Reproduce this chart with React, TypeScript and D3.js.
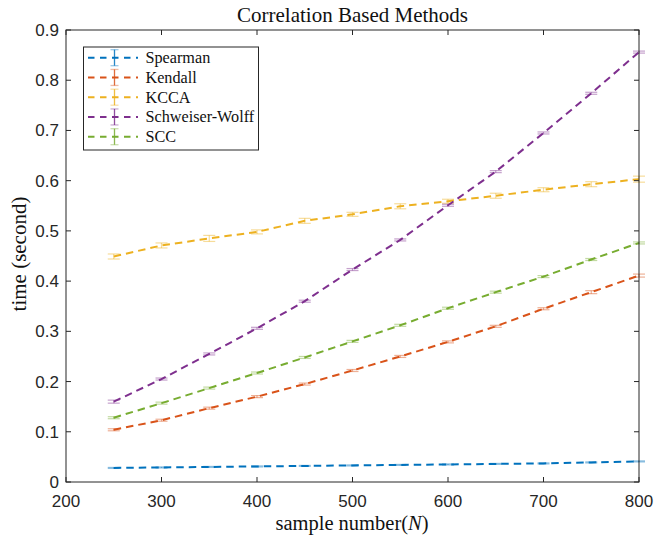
import React from "react";
import * as d3 from "d3";

// Sample sizes N
const sampleN = [250, 300, 350, 400, 450, 500, 550, 600, 650, 700, 750, 800];

// Mean running time (seconds) per method
const spearman = [0.028, 0.029, 0.030, 0.031, 0.032, 0.033, 0.034, 0.035, 0.036, 0.037, 0.039, 0.041];
const kendall = [0.104, 0.123, 0.147, 0.170, 0.195, 0.222, 0.250, 0.279, 0.310, 0.345, 0.378, 0.411];
const kcca = [0.449, 0.471, 0.485, 0.498, 0.520, 0.533, 0.549, 0.559, 0.570, 0.582, 0.593, 0.603];
const schweiserWolff = [0.160, 0.205, 0.255, 0.306, 0.360, 0.423, 0.482, 0.551, 0.618, 0.695, 0.774, 0.856];
const scc = [0.128, 0.157, 0.187, 0.217, 0.248, 0.280, 0.312, 0.346, 0.378, 0.409, 0.443, 0.476];

// Standard deviations (error bar half-heights)
const spearmanErr = [0.001, 0.001, 0.001, 0.001, 0.001, 0.001, 0.001, 0.001, 0.001, 0.001, 0.001, 0.001];
const kendallErr = [0.002, 0.002, 0.002, 0.002, 0.002, 0.002, 0.002, 0.002, 0.002, 0.002, 0.003, 0.003];
const kccaErr = [0.005, 0.005, 0.006, 0.004, 0.005, 0.004, 0.005, 0.004, 0.005, 0.004, 0.005, 0.006];
const schweiserWolffErr = [0.003, 0.002, 0.002, 0.002, 0.002, 0.002, 0.002, 0.002, 0.002, 0.002, 0.002, 0.002];
const sccErr = [0.002, 0.002, 0.002, 0.002, 0.002, 0.002, 0.002, 0.002, 0.002, 0.002, 0.002, 0.002];

const seriesNames = ["Spearman", "Kendall", "KCCA", "Schweiser-Wolff", "SCC"];
const seriesColors = ["#0072BD", "#D95319", "#EDB120", "#7E2F8E", "#77AC30"];

const xTicks = [200, 300, 400, 500, 600, 700, 800];
const yTicks = [0, 0.1, 0.2, 0.3, 0.4, 0.5, 0.6, 0.7, 0.8, 0.9];

const titleText = "Correlation Based Methods";
const yLabelText = "time (second)";

const W = 657;
const H = 540;
const margin = { left: 66, top: 30, right: 18, bottom: 58 };

const serifFont = "'Liberation Serif', 'Times New Roman', serif";
const sansFont = "'Liberation Sans', Arial, Helvetica, sans-serif";
const axisColor = "#262626";
const dash = "7.5,5";

export default function App() {
  const x = d3.scaleLinear().domain([200, 800]).range([margin.left, W - margin.right]);
  const y = d3.scaleLinear().domain([0, 0.9]).range([H - margin.bottom, margin.top]);

  const series = [
    { values: spearman, errs: spearmanErr },
    { values: kendall, errs: kendallErr },
    { values: kcca, errs: kccaErr },
    { values: schweiserWolff, errs: schweiserWolffErr },
    { values: scc, errs: sccErr },
  ];

  const line = d3
    .line<number>()
    .x((_, i) => x(sampleN[i]))
    .y((v) => y(v));

  const [x0, x1] = x.range();
  const [y0, y1] = y.range();
  const tickLen = 5;
  const capHalf = 6;

  const legendX = 83.5;
  const legendY = 47;
  const legendW = 175;
  const legendH = 103;
  const legendRow = 19.75;

  return (
    <svg width={W} height={H} style={{ position: "absolute", left: 0, top: 0, background: "#fff" }}>
      <rect x={0} y={0} width={W} height={H} fill="#fff" />

      {/* data: error bars and dashed lines */}
      {series.map((s, k) => (
        <g key={seriesNames[k]}>
          {s.values.map((v, i) => {
            const cx = x(sampleN[i]);
            const top = y(v + s.errs[i]);
            const bot = y(v - s.errs[i]);
            return (
              <g key={i} stroke={seriesColors[k]} strokeOpacity={0.45} strokeWidth={1.2}>
                <line x1={cx} x2={cx} y1={top} y2={bot} />
                <line x1={cx - capHalf} x2={cx + capHalf} y1={top} y2={top} />
                <line x1={cx - capHalf} x2={cx + capHalf} y1={bot} y2={bot} />
              </g>
            );
          })}
          <path
            d={line(s.values) ?? ""}
            fill="none"
            stroke={seriesColors[k]}
            strokeWidth={2}
            strokeDasharray={dash}
          />
        </g>
      ))}

      {/* axes box */}
      <rect x={x0} y={y1} width={x1 - x0} height={y0 - y1} fill="none" stroke={axisColor} strokeWidth={1} />

      {/* x ticks */}
      {xTicks.map((t) => (
        <g key={`x${t}`}>
          <line x1={x(t)} x2={x(t)} y1={y0} y2={y0 - tickLen} stroke={axisColor} />
          <line x1={x(t)} x2={x(t)} y1={y1} y2={y1 + tickLen} stroke={axisColor} />
          <text
            x={x(t)}
            y={y0 + 24.5}
            textAnchor="middle"
            fontFamily={sansFont}
            fontSize={17}
            fill={axisColor}
          >
            {t}
          </text>
        </g>
      ))}

      {/* y ticks */}
      {yTicks.map((t) => (
        <g key={`y${t}`}>
          <line x1={x0} x2={x0 + tickLen} y1={y(t)} y2={y(t)} stroke={axisColor} />
          <line x1={x1} x2={x1 - tickLen} y1={y(t)} y2={y(t)} stroke={axisColor} />
          <text
            x={x0 - 7}
            y={y(t) + 6}
            textAnchor="end"
            fontFamily={sansFont}
            fontSize={17}
            fill={axisColor}
          >
            {t === 0 ? "0" : t.toFixed(1)}
          </text>
        </g>
      ))}

      {/* title */}
      <text x={352.5} y={22} textAnchor="middle" fontFamily={serifFont} fontSize={21} fill="#111">
        {titleText}
      </text>

      {/* axis labels */}
      <text x={352} y={529.5} textAnchor="middle" fontFamily={serifFont} fontSize={20.5} fill="#111">
        sample number(<tspan fontStyle="italic">N</tspan>)
      </text>
      <text
        transform={`translate(26, ${(y0 + y1) / 2 - 2}) rotate(-90)`}
        textAnchor="middle"
        fontFamily={serifFont}
        fontSize={21}
        fill="#111"
      >
        {yLabelText}
      </text>

      {/* legend */}
      <g>
        <rect
          x={legendX}
          y={legendY}
          width={legendW}
          height={legendH}
          fill="#fff"
          stroke={axisColor}
          strokeWidth={1}
        />
        {seriesNames.map((name, k) => {
          const cy = legendY + 10.7 + k * legendRow;
          const mx = 114.5;
          return (
            <g key={name}>
              <line
                x1={88}
                x2={138}
                y1={cy}
                y2={cy}
                stroke={seriesColors[k]}
                strokeWidth={2}
                strokeDasharray="6.5,5.5"
              />
              <g stroke={seriesColors[k]} strokeWidth={1.3} strokeOpacity={0.85}>
                <line x1={mx} x2={mx} y1={cy - 8} y2={cy + 8} />
                <line x1={mx - 4} x2={mx + 4} y1={cy - 8} y2={cy - 8} strokeOpacity={0.4} />
                <line x1={mx - 4} x2={mx + 4} y1={cy + 8} y2={cy + 8} strokeOpacity={0.4} />
              </g>
              <text x={145.5} y={cy + 5.5} fontFamily={serifFont} fontSize={16.2} fill="#111">
                {name}
              </text>
            </g>
          );
        })}
      </g>
    </svg>
  );
}
